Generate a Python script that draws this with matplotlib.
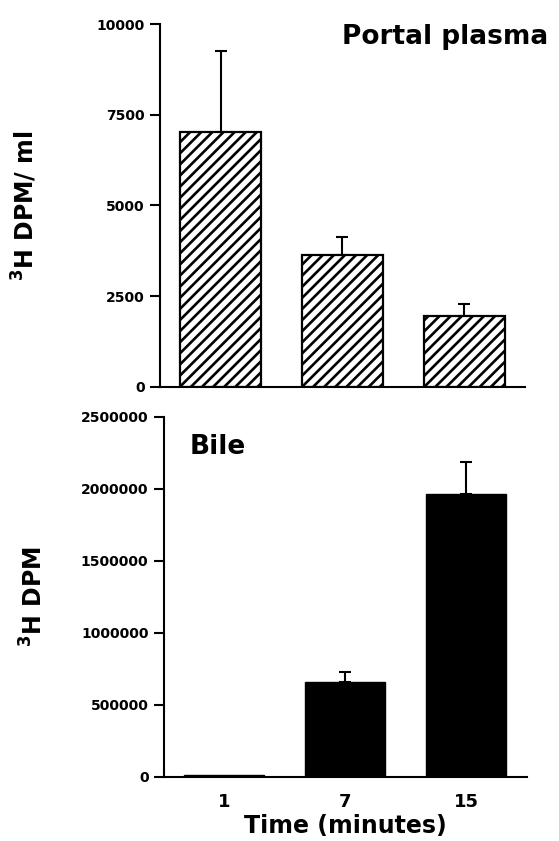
import matplotlib.pyplot as plt
from matplotlib.ticker import FormatStrFormatter

# data
times = ["1", "7", "15"]
portal_mean = [7030, 3640, 1950]
portal_err = [2220, 490, 335]
bile_mean = [15000, 655000, 1960000]
bile_err = [0, 71000, 223000]

plt.rcParams['font.family'] = 'DejaVu Sans'
plt.rcParams['font.weight'] = 'bold'
plt.rcParams['hatch.linewidth'] = 1.9

fig = plt.figure(figsize=(5.59, 8.41), dpi=100)
ax1 = fig.add_axes([0.286, 0.5402, 0.653, 0.431])
ax2 = fig.add_axes([0.293, 0.0765, 0.649, 0.428])

x = range(len(times))

ax1.bar(x, portal_mean, width=0.665, color='white', edgecolor='black',
        linewidth=1.6, hatch='///', zorder=2)
ax1.errorbar(x, portal_mean, yerr=[[0] * 3, portal_err], fmt='none',
             ecolor='black', elinewidth=1.5, capsize=4, capthick=1.5, zorder=1)
ax1.set_ylim(0, 10000)
ax1.set_yticks([0, 2500, 5000, 7500, 10000])
ax1.set_xticks([])
ax1.text(0.50, 0.965, "Portal plasma", transform=ax1.transAxes, fontsize=19,
         fontweight='bold', ha='left', va='center')
ax1.set_ylabel("$^{\\mathbf{3}}$H DPM/ ml", fontsize=17, fontweight='bold')
ax1.yaxis.set_label_coords(-0.33, 0.5)

ax2.bar(x, bile_mean, width=0.665, color='black', edgecolor='black',
        linewidth=1.0, zorder=2)
ax2.errorbar(x[1:], bile_mean[1:], yerr=[[0, 0], bile_err[1:]], fmt='none',
             ecolor='black', elinewidth=1.5, capsize=4, capthick=1.5, zorder=1)
ax2.set_ylim(0, 2500000)
ax2.set_yticks([0, 500000, 1000000, 1500000, 2000000, 2500000])
ax2.yaxis.set_major_formatter(FormatStrFormatter('%d'))
ax2.set_xticks(list(x))
ax2.set_xticklabels(times)
ax2.text(-0.285, 2290000, "Bile", fontsize=19, fontweight='bold',
         ha='left', va='center')
ax2.set_ylabel("$^{\\mathbf{3}}$H DPM", fontsize=17, fontweight='bold')
ax2.yaxis.set_label_coords(-0.32, 0.5)
ax2.set_xlabel("Time (minutes)", fontsize=17, fontweight='bold', labelpad=2)

for ax in (ax1, ax2):
    ax.set_xlim(-0.5, 2.5)
    ax.spines['top'].set_visible(False)
    ax.spines['right'].set_visible(False)
    ax.spines['left'].set_linewidth(1.5)
    ax.spines['bottom'].set_linewidth(1.5)
    ax.tick_params(axis='y', direction='out', length=7, width=1.5, pad=4,
                   labelsize=10)
    ax.tick_params(axis='x', length=0, pad=12, labelsize=13)
    for lab in ax.get_yticklabels() + ax.get_xticklabels():
        lab.set_fontweight('bold')

fig.savefig("out.png", dpi=100)
